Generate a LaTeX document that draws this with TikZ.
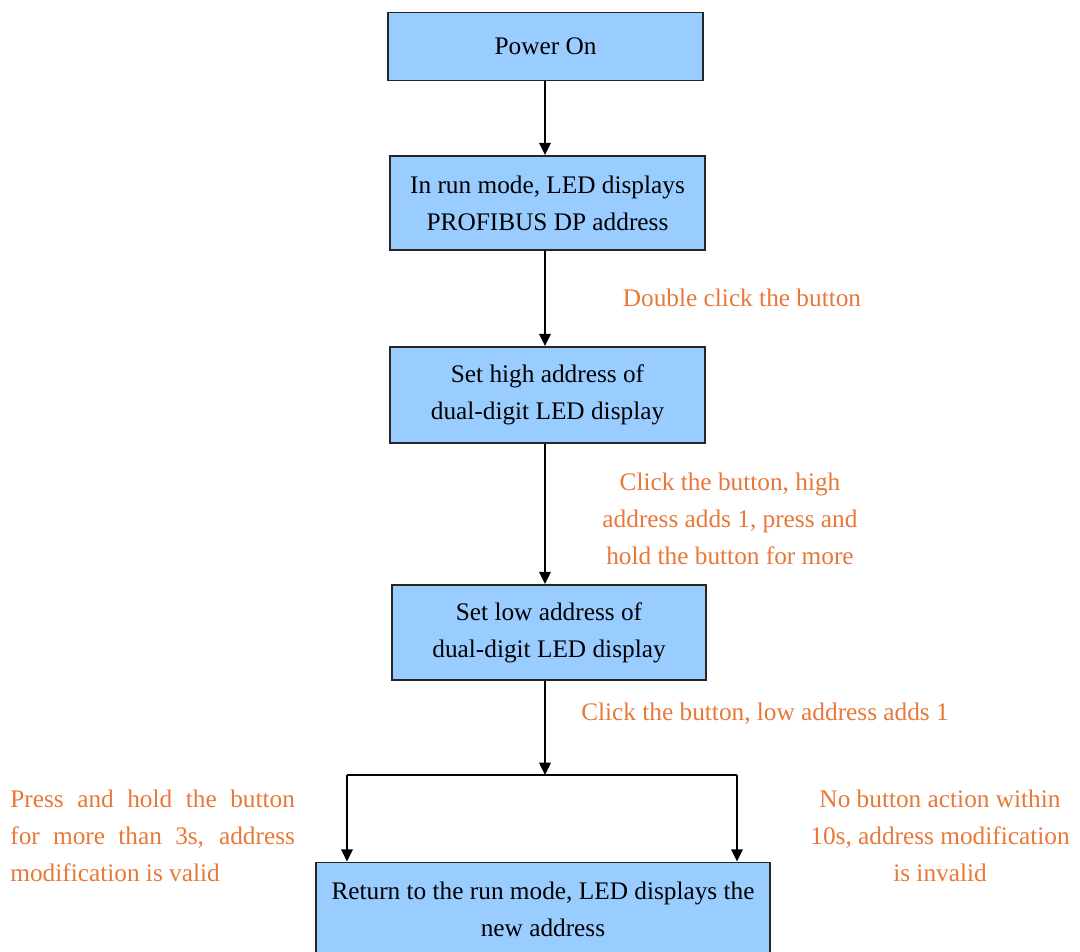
\documentclass[tikz,border=0pt]{standalone}
\usepackage{fontspec}
\setmainfont{Liberation Serif}
\usetikzlibrary{arrows.meta}
\definecolor{boxblue}{RGB}{153,204,255}
\definecolor{noteorange}{RGB}{232,120,56}
\tikzset{
  procbox/.style={draw=black!85, line width=1pt, fill=boxblue, align=center, inner sep=0pt},
  note/.style={text=noteorange, align=center, inner sep=0pt},
  flow/.style={line width=1.2pt, -{Triangle[length=7pt,width=6.5pt]}},
  bar/.style={line width=1.2pt}
}
\begin{document}
\begin{tikzpicture}[x=0.02cm, y=-0.02cm, every node/.style={font=\fontsize{14.4}{21}\selectfont}]
    \useasboundingbox (0,0) rectangle (1080,952);
    % process boxes
    \node [procbox, minimum width=6.3cm, minimum height=1.36cm] (power) at (545.5,46.5) {Power On};
    \node [procbox, minimum width=6.3cm, minimum height=1.88cm] (runmode) at (547.5,203) {In run mode, LED displays\\PROFIBUS DP address};
    \node [procbox, minimum width=6.3cm, minimum height=1.92cm] (sethigh) at (547.5,395) {Set high address of\\dual-digit LED display};
    \node [procbox, minimum width=6.28cm, minimum height=1.9cm] (setlow) at (549,632.5) {Set low address of\\dual-digit LED display};
    \node [procbox, minimum width=9.08cm, minimum height=1.86cm] (retrn) at (543,909) {Return to the run mode, LED displays the\\new address};
    % branch points
    \coordinate (split) at (545,775);
    \coordinate (lbranch) at (347,775);
    \coordinate (rbranch) at (737,775);
    % connectors
    \draw [flow] (power.south -| split) -- (runmode.north -| split);
    \draw [flow] (runmode.south -| split) -- (sethigh.north -| split);
    \draw [flow] (sethigh.south -| split) -- (setlow.north -| split);
    \draw [flow] (setlow.south -| split) -- (split);
    \draw [bar] (lbranch) -- (rbranch);
    \draw [flow] (lbranch) -- (lbranch |- retrn.north);
    \draw [flow] (rbranch) -- (rbranch |- retrn.north);
    % notes
    \node [note] (dblclick) at (742,298) {Double click the button};
    \node [note] (highnote) at (730,519) {Click the button, high\\address adds 1, press and\\hold the button for more};
    \node [note] (lownote) at (765,714) {Click the button, low address adds 1};
    \node [note, anchor=west, align=left] (validnote) at (10,836) {\makebox[162pt][s]{Press and hold the button}\\\makebox[162pt][s]{for more than 3s, address}\\modification is valid};
    \node [note] (invalidnote) at (940,836) {No button action within\\10s, address modification\\is invalid};
\end{tikzpicture}
\end{document}
